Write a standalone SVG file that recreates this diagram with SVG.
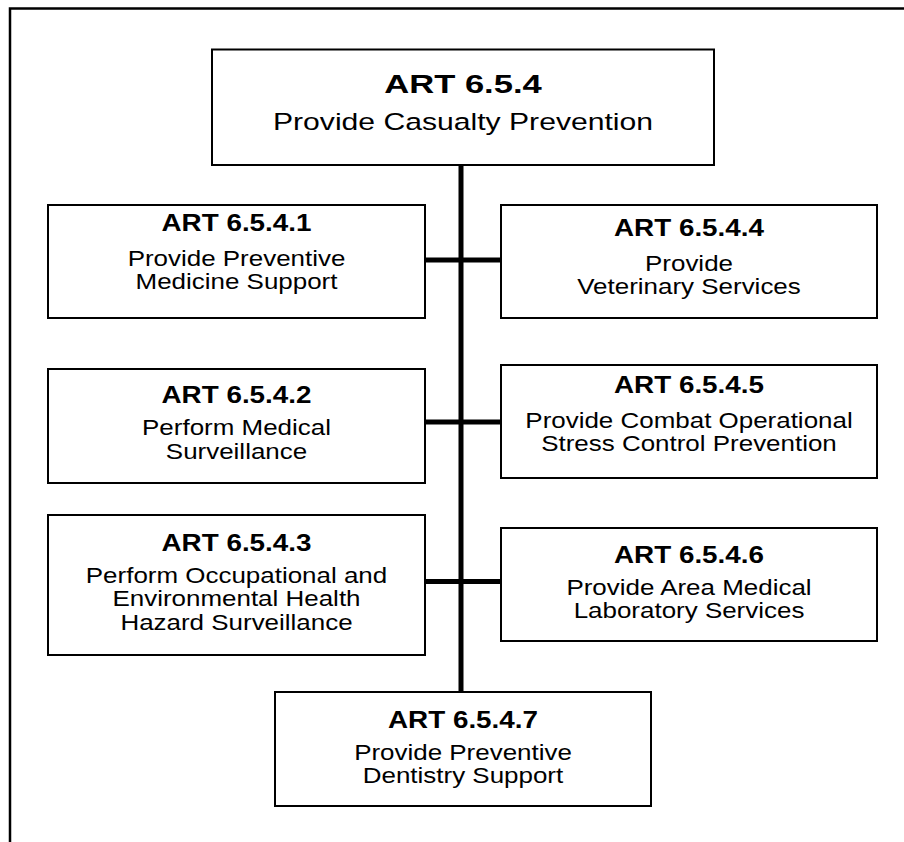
<svg xmlns="http://www.w3.org/2000/svg" width="904" height="842" viewBox="0 0 904 842">
<style>
.bg{fill:#fff}
.frame{fill:none;stroke:#000;stroke-width:2.5}
.box{fill:#fff;stroke:#000;stroke-width:2}
.conn{stroke:#000;stroke-width:5;fill:none}
text{font-family:"Liberation Sans",Arial,Helvetica,sans-serif;fill:#000;text-anchor:middle}
.tb{font-weight:bold;font-size:26px}
.tr{font-size:24.5px}
.b{font-weight:bold;font-size:23px}
.r{font-size:22px}
</style>
<rect class="bg" x="0" y="0" width="904" height="842"/>
<path class="frame" d="M10 842 V8.5 H904"/>
<g id="connectors">
<line class="conn" x1="461" y1="165" x2="461" y2="692"/>
<line class="conn" x1="425" y1="260" x2="501" y2="260"/>
<line class="conn" x1="425" y1="422" x2="501" y2="422"/>
<line class="conn" x1="425" y1="581.5" x2="501" y2="581.5"/>
</g>
<g id="art654">
<rect class="box" x="212" y="49.5" width="502" height="115.5"/>
<text class="tb" transform="translate(463 0) scale(1.33 1)" x="0" y="93">ART 6.5.4</text>
<text class="tr" transform="translate(463 0) scale(1.23 1)" x="0" y="130.5">Provide Casualty Prevention</text>
</g>
<g id="art6541">
<rect class="box" x="48" y="205" width="377" height="113"/>
<text class="b" transform="translate(236.5 0) scale(1.21 1)" x="0" y="231.5">ART 6.5.4.1</text>
<text class="r" transform="translate(236.5 0) scale(1.18 1)"><tspan x="0" y="266.5">Provide Preventive</tspan><tspan x="0" y="289.5">Medicine Support</tspan></text>
</g>
<g id="art6544">
<rect class="box" x="501" y="205" width="376" height="113"/>
<text class="b" transform="translate(689 0) scale(1.21 1)" x="0" y="236.5">ART 6.5.4.4</text>
<text class="r" transform="translate(689 0) scale(1.18 1)"><tspan x="0" y="271">Provide</tspan><tspan x="0" y="294">Veterinary Services</tspan></text>
</g>
<g id="art6542">
<rect class="box" x="48" y="369" width="377" height="114"/>
<text class="b" transform="translate(236.5 0) scale(1.21 1)" x="0" y="403">ART 6.5.4.2</text>
<text class="r" transform="translate(236.5 0) scale(1.18 1)"><tspan x="0" y="435">Perform Medical</tspan><tspan x="0" y="459">Surveillance</tspan></text>
</g>
<g id="art6545">
<rect class="box" x="501" y="365" width="376" height="113"/>
<text class="b" transform="translate(689 0) scale(1.21 1)" x="0" y="393.5">ART 6.5.4.5</text>
<text class="r" transform="translate(689 0) scale(1.18 1)"><tspan x="0" y="428.5">Provide Combat Operational</tspan><tspan x="0" y="451.5">Stress Control Prevention</tspan></text>
</g>
<g id="art6543">
<rect class="box" x="48" y="515" width="377" height="140"/>
<text class="b" transform="translate(236.5 0) scale(1.21 1)" x="0" y="551.5">ART 6.5.4.3</text>
<text class="r" transform="translate(236.5 0) scale(1.18 1)"><tspan x="0" y="583.5">Perform Occupational and</tspan><tspan x="0" y="606.5">Environmental Health</tspan><tspan x="0" y="630">Hazard Surveillance</tspan></text>
</g>
<g id="art6546">
<rect class="box" x="501" y="528" width="376" height="113"/>
<text class="b" transform="translate(689 0) scale(1.21 1)" x="0" y="563.5">ART 6.5.4.6</text>
<text class="r" transform="translate(689 0) scale(1.18 1)"><tspan x="0" y="595">Provide Area Medical</tspan><tspan x="0" y="618">Laboratory Services</tspan></text>
</g>
<g id="art6547">
<rect class="box" x="275" y="692" width="376" height="114"/>
<text class="b" transform="translate(463 0) scale(1.21 1)" x="0" y="728.5">ART 6.5.4.7</text>
<text class="r" transform="translate(463 0) scale(1.18 1)"><tspan x="0" y="760">Provide Preventive</tspan><tspan x="0" y="783.5">Dentistry Support</tspan></text>
</g>
</svg>
